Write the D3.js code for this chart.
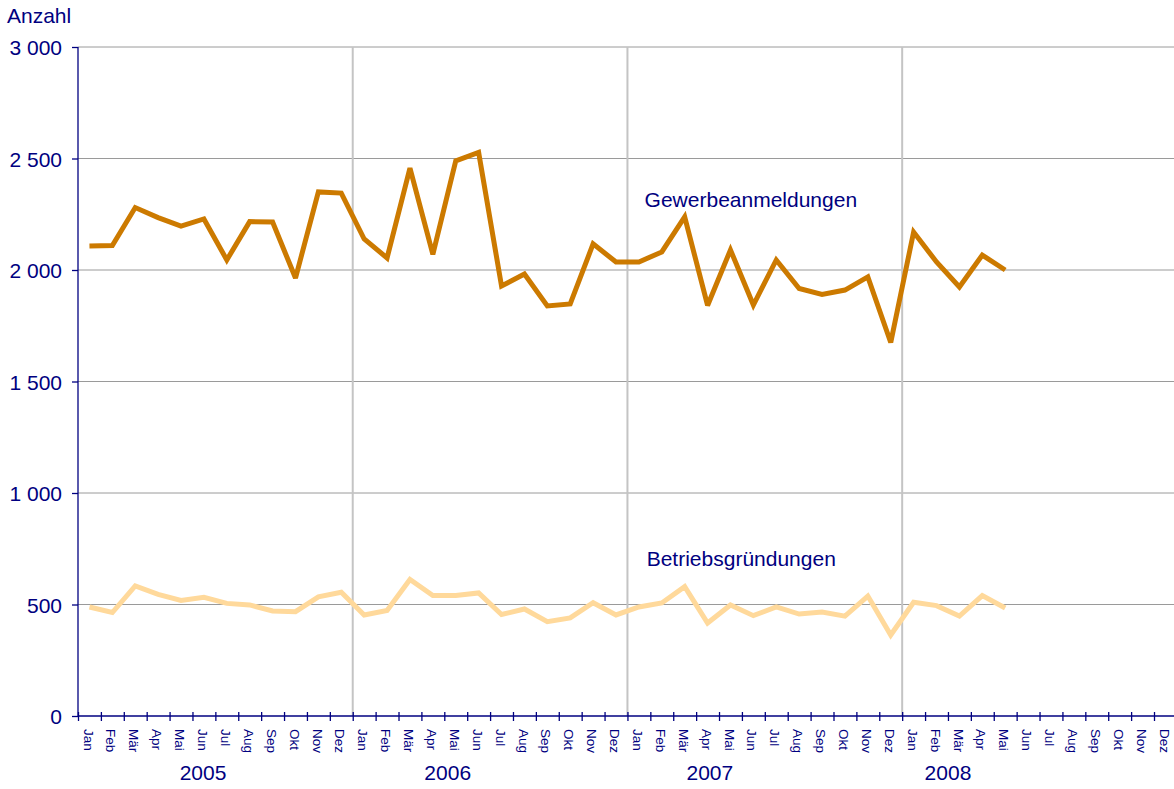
<!DOCTYPE html>
<html>
<head>
<meta charset="utf-8">
<script src="https://cdn.jsdelivr.net/npm/d3@7"></script>
<style>
html,body{margin:0;padding:0;background:#fff;overflow:hidden;}
svg{display:block;font-family:"Liberation Sans",Arial,sans-serif;}
</style>
</head>
<body>
<svg id="chart" width="1174" height="789"></svg>
<script>
// ---- data ----
const years = ["2005", "2006", "2007", "2008"];
const months = ["Jan","Feb","Mär","Apr","Mai","Jun","Jul","Aug","Sep","Okt","Nov","Dez"];
const yTicks = [0, 500, 1000, 1500, 2000, 2500, 3000];
const seriesNames = ["Gewerbeanmeldungen", "Betriebsgründungen"];
// Monthly values Jan 2005 .. Mai 2008
const gewerbeanmeldungen = [
  2108, 2110, 2280, 2235, 2197, 2229, 2045, 2217, 2215, 1964, 2350, 2345,
  2139, 2054, 2457, 2070, 2489, 2527, 1928, 1982, 1839, 1848, 2117, 2036,
  2036, 2081, 2238, 1841, 2090, 1843, 2045, 1917, 1890, 1910, 1969, 1675,
  2170, 2036, 1924, 2067, 2000
];
const betriebsgruendungen = [
  489, 464, 583, 545, 518, 532, 505, 498, 471, 468, 534, 555,
  453, 473, 612, 540, 540, 552, 455, 480, 423, 440, 508, 453,
  489, 507, 580, 417, 498, 450, 489, 457, 466, 448, 538, 363,
  510, 495, 448, 540, 484
];
const yearLabelAt = [5.46, 16.15, 27.6, 38.0]; // month-index position of each year label

// ---- layout ----
const svg = d3.select("#chart");
const navy = "#000080";
const pLeft = 78, pRight = 1176.9, pTop = 47, pBottom = 716;

const keys = [];
years.forEach(yr => months.forEach(m => keys.push(yr + "-" + m)));

const xBand = d3.scaleBand().domain(keys).range([pLeft, pRight]).paddingInner(0).paddingOuter(0);
const xLin = d3.scaleLinear().domain([0, keys.length]).range([pLeft, pRight]);
const y = d3.scaleLinear().domain([0, 3000]).range([pBottom, pTop]);

const loc = d3.formatLocale({decimal: ",", thousands: "\u00a0", grouping: [3], currency: ["", ""]});
const fmt = loc.format(",");

// horizontal grid
svg.append("g").selectAll("line").data(yTicks.filter(d => d > 0)).join("line")
  .attr("x1", pLeft).attr("x2", 1174)
  .attr("y1", d => y(d)).attr("y2", d => y(d))
  .attr("stroke", "#9a9a9a").attr("stroke-width", 1);

// vertical year separators
svg.append("g").selectAll("line").data(years.slice(1)).join("line")
  .attr("x1", d => xBand(d + "-Jan")).attr("x2", d => xBand(d + "-Jan"))
  .attr("y1", pTop).attr("y2", pBottom)
  .attr("stroke", "#c4c4c4").attr("stroke-width", 2);

// series lines
const cx = i => xBand(keys[i]) + xBand.bandwidth() / 2;
const line = d3.line().x((d, i) => cx(i)).y(d => y(d));
svg.append("path").datum(betriebsgruendungen)
  .attr("d", line).attr("fill", "none")
  .attr("stroke", "#ffd99b").attr("stroke-width", 5)
  .attr("stroke-linejoin", "miter").attr("stroke-miterlimit", 3);
svg.append("path").datum(gewerbeanmeldungen)
  .attr("d", line).attr("fill", "none")
  .attr("stroke", "#cc7a00").attr("stroke-width", 5)
  .attr("stroke-linejoin", "miter").attr("stroke-miterlimit", 3);

// y axis
const yAxis = svg.append("g").attr("transform", `translate(${pLeft},0)`)
  .call(d3.axisLeft(y).tickValues(yTicks).tickFormat(fmt).tickSize(6).tickPadding(10));
yAxis.select(".domain").attr("stroke", navy).attr("stroke-width", 1.3).attr("d", `M0,${pTop}V${pBottom}`);
yAxis.selectAll(".tick line").attr("stroke", navy).attr("stroke-width", 1.3);
yAxis.selectAll(".tick text").attr("fill", navy).attr("font-size", "21px")
  .attr("font-family", "Liberation Sans, Arial, sans-serif").attr("dy", "0.36em");

// x axis: boundary ticks
const xAxis = svg.append("g").attr("transform", `translate(0,${pBottom})`)
  .call(d3.axisBottom(xLin).tickValues(d3.range(0, keys.length + 1)).tickFormat("").tickSizeInner(5).tickSizeOuter(0));
xAxis.select(".domain").attr("stroke", navy).attr("stroke-width", 1.3).attr("d", `M${pLeft},0H1174`);
xAxis.selectAll(".tick line").attr("stroke", navy).attr("stroke-width", 1.3).attr("y1", -4).attr("y2", 5);

// month labels
svg.append("g").selectAll("text").data(keys).join("text")
  .attr("transform", d => `translate(${xBand(d) + xBand.bandwidth() / 2 - 1},729) rotate(90)`)
  .attr("dy", "0.36em")
  .attr("text-anchor", "start")
  .attr("fill", navy).attr("font-size", "13.5px")
  .text(d => d.split("-")[1]);

// year labels
svg.append("g").selectAll("text").data(years).join("text")
  .attr("x", (d, i) => xLin(yearLabelAt[i]))
  .attr("y", 780)
  .attr("text-anchor", "middle")
  .attr("fill", navy).attr("font-size", "21px")
  .text(d => d);

// axis title
svg.append("text").attr("x", 7).attr("y", 23)
  .attr("fill", navy).attr("font-size", "21px").text("Anzahl");

// series labels
const labelPos = [[24.75, 2282], [24.84, 672]];
svg.append("g").selectAll("text").data(seriesNames).join("text")
  .attr("x", (d, i) => xLin(labelPos[i][0]))
  .attr("y", (d, i) => y(labelPos[i][1]))
  .attr("fill", navy).attr("font-size", "21px")
  .text(d => d);
</script>
</body>
</html>
